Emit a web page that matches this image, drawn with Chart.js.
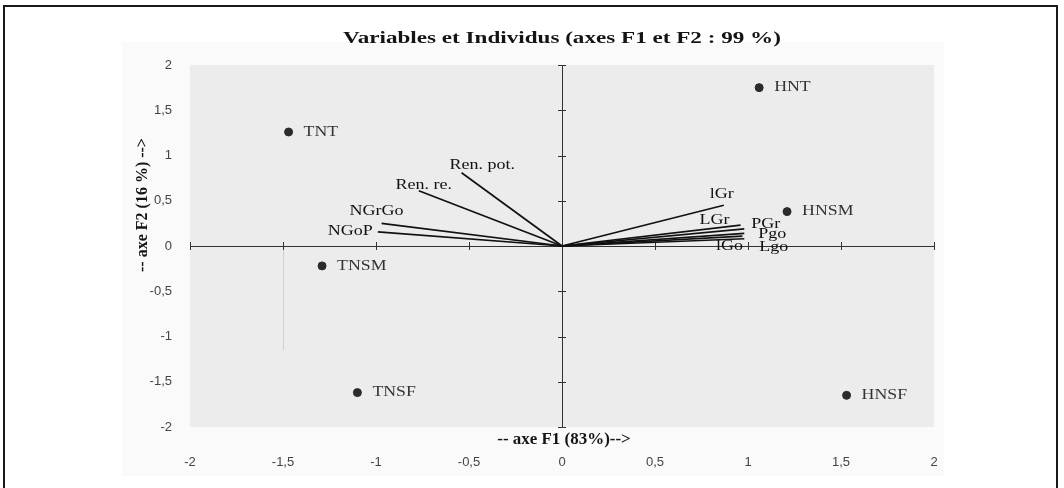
<!DOCTYPE html>
<html>
<head>
<meta charset="utf-8">
<script src="https://cdn.jsdelivr.net/npm/chart.js@4.4.1/dist/chart.umd.min.js"></script>
<style>
  html, body { margin: 0; padding: 0; background: #fff; }
  #wrap { position: relative; width: 1064px; height: 488px; overflow: hidden; }
  #wrap canvas { position: absolute; left: 0; top: 0; }
  #frame { position: absolute; left: 3px; top: 5px; width: 1055px; height: 500px;
           border: 2px solid #1a1a1a; box-sizing: border-box; pointer-events: none; }
</style>
</head>
<body>
<div id="wrap">
  <canvas id="biplot" width="1064" height="488"></canvas>
  <div id="frame"></div>
</div>
<script>
// Individus (coordonnées factorielles F1, F2)
const individus = ['HNT', 'TNT', 'HNSM', 'TNSM', 'TNSF', 'HNSF'];
const indivF1   = [1.06, -1.47, 1.21, -1.29, -1.10, 1.53];
const indivF2   = [1.75,  1.26, 0.38, -0.22, -1.62, -1.65];

// Variables (corrélations avec F1, F2)
const variables = ['Ren. pot.', 'Ren. re.', 'NGrGo', 'NGoP', 'lGr', 'LGr', 'PGr', 'Pgo', 'lGo', 'Lgo'];
const varF1     = [-0.54, -0.77, -0.97, -0.99, 0.87, 0.96, 0.98, 0.98, 0.97, 0.98];
const varF2     = [ 0.81,  0.61,  0.25,  0.155, 0.45, 0.23, 0.19, 0.14, 0.11, 0.08];

// Graduations des deux axes
const axisTicks = [-2, -1.5, -1, -0.5, 0, 0.5, 1, 1.5, 2];

const chartTitle = 'Variables et Individus (axes F1 et F2 : 99 %)';
const xTitle = '-- axe F1 (83%)-->';
const yTitle = '-- axe F2 (16 %) -->';

// Placement des étiquettes de variables (décalage en px depuis l'extrémité du vecteur)
const varLabelPlacement = [
  { dx: -12, dy: -8,  align: 'left'   },
  { dx:   5, dy: -6,  align: 'center' },
  { dx:  -5, dy: -12, align: 'center' },
  { dx:  -5, dy: -1,  align: 'right'  },
  { dx:  -2, dy: -11, align: 'center' },
  { dx: -26, dy: -5,  align: 'center' },
  { dx:   7, dy: -5,  align: 'left'   },
  { dx:  14, dy:  1,  align: 'left'   },
  { dx: -13, dy: 10,  align: 'center' },
  { dx:  15, dy:  8,  align: 'left'   }
];

const serif = '"Liberation Serif", "Times New Roman", serif';
const sans = '"Liberation Sans", Arial, sans-serif';
const fmt = v => String(v).replace('.', ',');

// texte élargi horizontalement (police Times étirée)
function wideText(ctx, s, x, y, align, sx) {
  ctx.save();
  ctx.translate(x, y);
  ctx.scale(sx, 1);
  ctx.textAlign = align;
  ctx.fillText(s, 0, 0);
  ctx.restore();
}

const pointsDataset = {
  label: 'Individus',
  data: individus.map((_, i) => ({ x: indivF1[i], y: indivF2[i] })),
  pointRadius: 4,
  pointBackgroundColor: '#2b2b2b',
  pointBorderColor: '#2b2b2b',
  pointBorderWidth: 1,
  showLine: false
};

const vectorDatasets = variables.map((name, i) => ({
  label: name,
  data: [{ x: 0, y: 0 }, { x: varF1[i], y: varF2[i] }],
  showLine: true,
  borderColor: '#111',
  borderWidth: 1.7,
  pointRadius: 0,
  fill: false
}));

const decor = {
  id: 'decor',
  beforeDraw(chart) {
    const { ctx, chartArea: a } = chart;
    ctx.save();
    ctx.fillStyle = '#ffffff';
    ctx.fillRect(0, 0, chart.width, chart.height);
    ctx.fillStyle = '#fafafa';
    ctx.fillRect(122, 42, 822, 434);
    ctx.fillStyle = '#ececec';
    ctx.fillRect(a.left, a.top, a.right - a.left, a.bottom - a.top);
    ctx.restore();
  },
  beforeDatasetsDraw(chart) {
    const { ctx, chartArea: a, scales: { x, y } } = chart;
    const x0 = x.getPixelForValue(0), y0 = y.getPixelForValue(0);
    ctx.save();
    ctx.strokeStyle = '#cfcfcf';
    ctx.lineWidth = 1;
    ctx.beginPath();
    ctx.moveTo(Math.round(x.getPixelForValue(-1.5)) + 0.5, y0);
    ctx.lineTo(Math.round(x.getPixelForValue(-1.5)) + 0.5, y.getPixelForValue(-1.15));
    ctx.stroke();

    ctx.strokeStyle = '#333';
    ctx.lineWidth = 1;
    ctx.beginPath();
    ctx.moveTo(a.left, Math.round(y0) + 0.5);
    ctx.lineTo(a.right, Math.round(y0) + 0.5);
    ctx.moveTo(Math.round(x0) + 0.5, a.top);
    ctx.lineTo(Math.round(x0) + 0.5, a.bottom);
    axisTicks.forEach(v => {
      const px = Math.round(x.getPixelForValue(v)) + 0.5;
      ctx.moveTo(px, y0 - 4); ctx.lineTo(px, y0 + 4);
      const py = Math.round(y.getPixelForValue(v)) + 0.5;
      ctx.moveTo(x0 - 4, py); ctx.lineTo(x0 + 4, py);
    });
    ctx.stroke();
    ctx.restore();
  },
  afterDraw(chart) {
    const { ctx, chartArea: a } = chart;
    const cx = (a.left + a.right) / 2;
    ctx.save();
    ctx.fillStyle = '#141414';
    ctx.textBaseline = 'middle';
    ctx.font = 'bold 17px ' + serif;
    wideText(ctx, chartTitle, cx, 39, 'center', 1.36);
    ctx.font = 'bold 16px ' + serif;
    wideText(ctx, xTitle, cx + 2, 440, 'center', 1.06);
    ctx.translate(143, 205);
    ctx.rotate(-Math.PI / 2);
    ctx.textAlign = 'center';
    ctx.fillText(yTitle, 0, 0);
    ctx.restore();
  },
  afterDatasetsDraw(chart) {
    const { ctx } = chart;
    ctx.save();
    ctx.textBaseline = 'middle';
    ctx.font = '14px ' + serif;
    ctx.fillStyle = '#333';
    chart.getDatasetMeta(0).data.forEach((pt, i) => {
      wideText(ctx, individus[i], pt.x + 15, pt.y, 'left', 1.27);
    });
    ctx.font = '15px ' + serif;
    ctx.fillStyle = '#111';
    variables.forEach((name, i) => {
      const end = chart.getDatasetMeta(i + 1).data[1];
      const p = varLabelPlacement[i];
      wideText(ctx, name, end.x + p.dx, end.y + p.dy, p.align, 1.2);
    });
    ctx.restore();
  }
};

new Chart(document.getElementById('biplot'), {
  type: 'scatter',
  data: { datasets: [pointsDataset, ...vectorDatasets] },
  plugins: [decor],
  options: {
    responsive: false,
    animation: false,
    devicePixelRatio: 1,
    layout: { padding: { left: 0, right: 130, top: 65, bottom: 0 } },
    plugins: { legend: { display: false }, tooltip: { enabled: false }, title: { display: false } },
    scales: {
      x: {
        type: 'linear', min: -2, max: 2,
        afterBuildTicks: s => { s.ticks = axisTicks.map(v => ({ value: v })); },
        afterFit: s => { s.height = 61; },
        grid: { display: false, drawTicks: false },
        border: { display: false },
        ticks: { padding: 28, color: '#444', font: { family: sans, size: 13 }, callback: v => fmt(v), maxRotation: 0, autoSkip: false }
      },
      y: {
        type: 'linear', min: -2, max: 2,
        afterBuildTicks: s => { s.ticks = axisTicks.map(v => ({ value: v })); },
        afterFit: s => { s.width = 190; },
        grid: { display: false, drawTicks: false },
        border: { display: false },
        ticks: { padding: 18, color: '#444', font: { family: sans, size: 13 }, callback: v => fmt(v), autoSkip: false }
      }
    }
  }
});
</script>
</body>
</html>
